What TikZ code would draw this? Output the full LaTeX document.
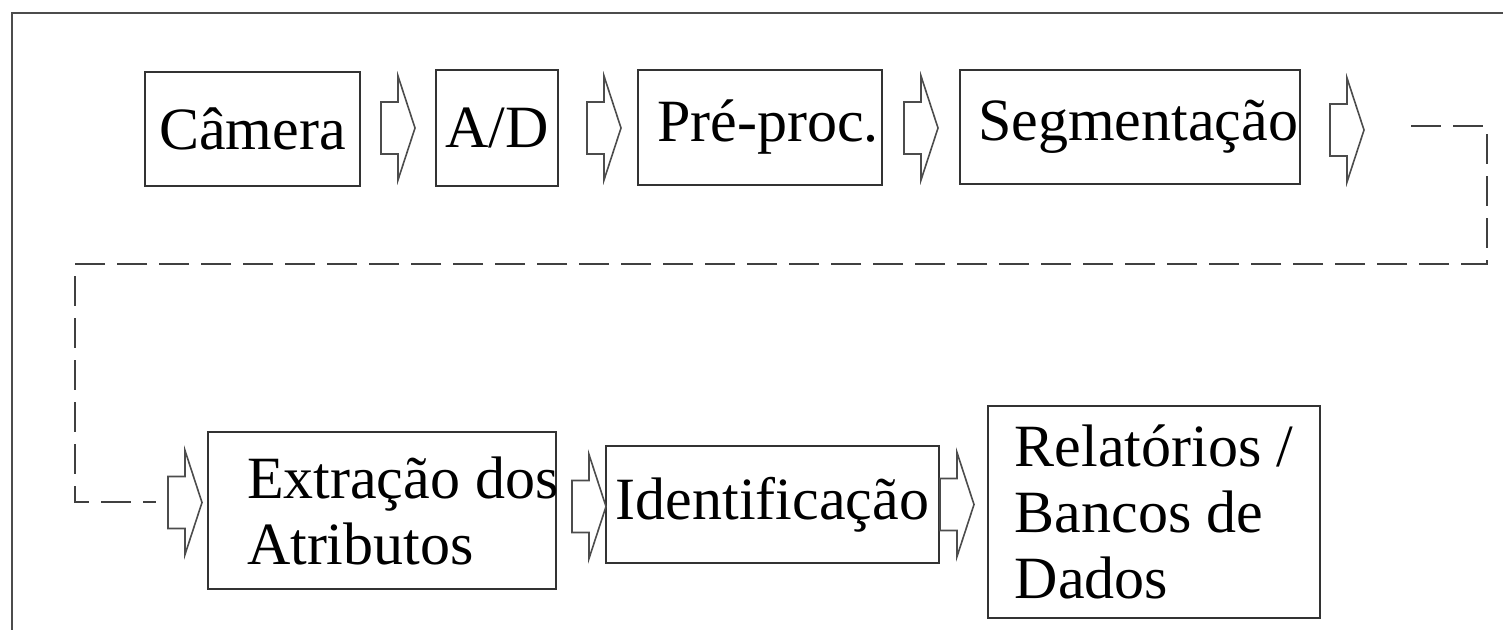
\documentclass[tikz,border=0pt]{standalone}
\usepackage{fontspec}
\setmainfont{Liberation Serif}
\usetikzlibrary{calc}

\tikzset{
	box/.style={draw=black!80, line width=1pt, inner sep=0pt, font=\fontsize{30}{33}\selectfont},
	arrowline/.style={draw=black!70, line width=0.8pt},
	loopline/.style={draw=black!75, line width=1pt, dash pattern=on 15pt off 6pt},
	frameline/.style={draw=black!70, line width=1.4pt},
	blockarrow/.pic={\draw[arrowline] (0,-26) -- (17,-26) -- (17,-52) -- (34,0) -- (17,52) -- (17,26) -- (0,26) -- cycle;}
}

\begin{document}
\begin{tikzpicture}[x=0.5pt,y=0.5pt,yscale=-1,xscale=1]
	\useasboundingbox (0,0) rectangle (1503,629);
	
	%Frame (only top and left side inside the picture)
	\draw[frameline] (12,660) -- (12,13) -- (1540,13);
	
	%First row
	\node[box, minimum width=107.5pt, minimum height=57pt] (camera) at (252.5,129) {Câmera};
	\node[box, minimum width=61pt, minimum height=58pt] (ad) at (497,128) {A/D};
	\node[box, minimum width=122pt, minimum height=57.5pt] (preproc) at (760,127.5) {\hspace*{8pt}Pré-proc.};
	\node[box, minimum width=170pt, minimum height=57pt] (segm) at (1130,127) {\hspace*{8pt}Segmentação};
	
	%Second row
	\node[box, align=left, minimum width=174pt, minimum height=78.5pt] (attrib) at (382,510.5) {\makebox[135pt][l]{Extração dos}\\Atributos};
	\node[box, minimum width=166.5pt, minimum height=58.5pt] (ident) at (772.5,504.5) {Identificação};
	\node[box, align=left, minimum width=166pt, minimum height=106pt] (report) at (1154,512) {Relatórios /\\Bancos de\\Dados};
	
	%Block arrows
	\pic at ($(camera.east)+(20,-1)$) {blockarrow};
	\pic at ($(ad.east)+(28,0)$) {blockarrow};
	\pic at ($(preproc.east)+(21,0.5)$) {blockarrow};
	\pic at ($(segm.east)+(29,3)$) {blockarrow};
	\pic at ($(attrib.west)+(-39,-8)$) {blockarrow};
	\pic at ($(ident.west)+(-33,2)$) {blockarrow};
	\pic at ($(ident.east)+(0,0)$) {blockarrow};
	
	%Dashed link from first row to second row
	\coordinate (loopin) at ($(segm.east)+(110,-1)$);
	\coordinate (loopout) at ($(attrib.west)+(-51,-8.5)$);
	\draw[loopline] (loopin) -- (1487,126) -- (1487,264) -- (75,264) -- (75,502) -- (loopout);
	
\end{tikzpicture}
\end{document}
